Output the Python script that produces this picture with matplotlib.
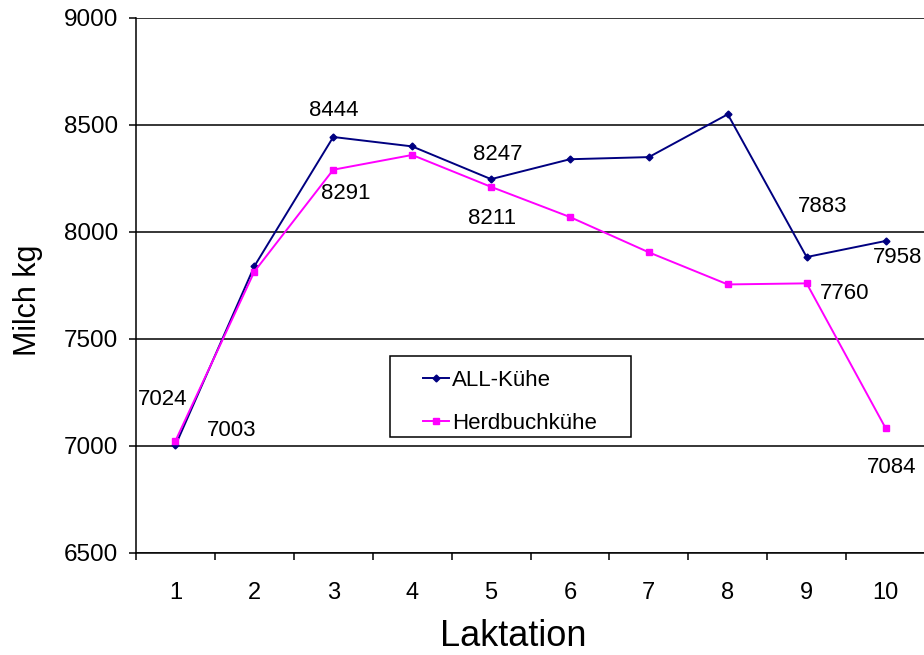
import numpy as np
import matplotlib
matplotlib.use("Agg")
import matplotlib.pyplot as plt
from matplotlib.patches import Rectangle

laktation = [1, 2, 3, 4, 5, 6, 7, 8, 9, 10]
all_kuehe = [7003, 7840, 8444, 8400, 8247, 8340, 8350, 8550, 7883, 7958]
herdbuch = [7024, 7815, 8291, 8360, 8211, 8070, 7905, 7755, 7760, 7084]

# which points carry a value label
label_all = [0, 2, 4, 8, 9]
label_herd = [0, 2, 4, 8, 9]
# label offsets in pixels, Excel-style placement
off_all = {0: (56, 15), 2: (0, 26), 4: (7, 25), 8: (16, 51), 9: (12, -17)}
off_herd = {0: (-13, 41), 2: (13, -24), 4: (1, -32), 8: (38, -10), 9: (6, -39)}

plt.rcParams['font.family'] = ['Liberation Sans', 'DejaVu Sans']

fig = plt.figure(figsize=(9.24, 6.55), dpi=100)
ax = fig.add_axes([136 / 924, 1 - 553 / 655, 789 / 924, 535 / 655])

ax.plot(laktation, all_kuehe, color='#000080', lw=1.4, marker='D', ms=3.5,
        label='ALL-Kühe', zorder=3)
ax.plot(laktation, herdbuch, color='#FF00FF', lw=1.4, marker='s', ms=5,
        label='Herdbuchkühe', zorder=3)

for i in label_all:
    ax.annotate(str(all_kuehe[i]), (laktation[i], all_kuehe[i]),
                xytext=off_all[i], textcoords='offset pixels',
                ha='center', va='center', fontsize=16, annotation_clip=False)
for i in label_herd:
    ax.annotate(str(herdbuch[i]), (laktation[i], herdbuch[i]),
                xytext=off_herd[i], textcoords='offset pixels',
                ha='center', va='center', fontsize=16, annotation_clip=False)

ax.set_xlim(0.5, 10.5)
ax.set_ylim(6500, 9000)
ax.set_yticks(np.arange(6500, 9001, 500))
ax.yaxis.grid(True, color='black', lw=1.1)
ax.set_axisbelow(True)

ax.set_xticks(laktation)
ax.set_xticks(np.arange(0.5, 11, 1), minor=True)
ax.tick_params(axis='x', which='major', length=0, pad=21, labelsize=17)
ax.tick_params(axis='x', which='minor', length=5, width=1.1, direction='out')
ax.tick_params(axis='y', length=5, width=1.1, direction='out', pad=8, labelsize=17.5)

for s in ['top', 'right']:
    ax.spines[s].set_visible(False)
for s in ['left', 'bottom']:
    ax.spines[s].set_linewidth(1.1)

ax.set_ylabel('Milch kg', fontsize=22)
ax.yaxis.set_label_coords(-0.118, 0.473)
fig.text(513 / 924, 1 / 655, 'Laktation', fontsize=26, ha='center', va='bottom')

# legend frame drawn separately to get Excel's wide inner padding
ax.add_patch(Rectangle((254 / 789, 116 / 535), 241 / 789, 81 / 535,
                       transform=ax.transAxes, fill=True, fc='white',
                       ec='black', lw=1.1, zorder=4))
leg = ax.legend(loc='upper left', bbox_to_anchor=(287 / 789, 183 / 535),
                fontsize=16, frameon=False, borderpad=0, labelspacing=0.97,
                handlelength=1.15, handletextpad=0.15, borderaxespad=0)
leg.set_zorder(5)

fig.savefig('out.png', dpi=100)
